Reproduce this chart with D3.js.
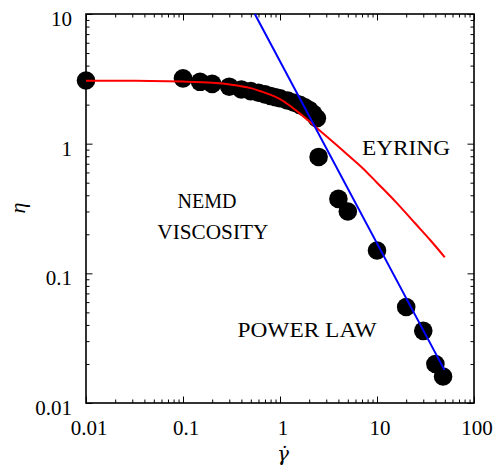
<!DOCTYPE html>
<html>
<head>
<meta charset="utf-8">
<script src="https://cdn.jsdelivr.net/npm/d3@7"></script>
<style>
  html, body { margin: 0; padding: 0; background: #fff; }
  svg { display: block; }
  text { font-family: "Liberation Serif", "Times New Roman", serif; fill: #000; }
</style>
</head>
<body>
<svg id="chart" width="495" height="468"></svg>
<script>
// ---- data ----
const shearRate = [0.01, 0.1, 0.15, 0.2, 0.3, 0.4, 0.5, 0.6, 0.7, 0.8, 0.9, 1.0, 1.2, 1.4, 1.6, 1.8, 2.0, 2.2, 2.4,
                   2.5, 4, 5, 10, 20, 30, 40, 48];
const viscosity = [3.07, 3.19, 3.0, 2.89, 2.75, 2.62, 2.54, 2.47, 2.40, 2.33, 2.28, 2.24, 2.15, 2.07, 1.99, 1.91, 1.82, 1.70, 1.57,
                   0.79, 0.375, 0.30, 0.15, 0.055, 0.036, 0.020, 0.016];

const eyringX = [0.01, 0.0316, 0.1, 0.2, 0.316, 0.5, 0.63, 0.794, 1.0, 1.26, 1.585, 2.0, 2.51, 3.55, 5.01, 7.08, 10, 15.85, 25.1, 35.5, 50];
const eyringY = [3.06, 3.055, 3.01, 2.95, 2.85, 2.68, 2.535, 2.39, 2.21, 1.97, 1.72, 1.486, 1.28, 1.025, 0.818, 0.65, 0.50, 0.351, 0.24, 0.18, 0.133];

const powerLawX = [0.55, 49.5];
const powerLawY = [10, 0.018];

const xTickValues = [0.01, 0.1, 1, 10, 100];
const xTickLabels = ["0.01", "0.1", "1", "10", "100"];
const yTickValues = [0.01, 0.1, 1, 10];
const yTickLabels = ["0.01", "0.1", "1", "10"];

const annotations = [
  { text: "NEMD", x: 0.1766, y: 0.319, w: 59 },
  { text: "VISCOSITY", x: 0.203, y: 0.183, w: 111 },
  { text: "POWER LAW", x: 1.897, y: 0.0325, w: 139 },
  { text: "EYRING", x: 19.9, y: 0.818, w: 88 }
];

// ---- layout ----
const L = 86, R = 474, T = 14, B = 403;
const svg = d3.select("#chart");
const x = d3.scaleLog().domain([0.01, 100]).range([L, R]);
const y = d3.scaleLog().domain([0.01, 10]).range([B, T]);

const isMajor = v => Math.abs(Math.log10(v) - Math.round(Math.log10(v))) < 1e-9;
const xMinor = x.ticks().filter(v => !isMajor(v));
const yMinor = y.ticks().filter(v => !isMajor(v));

function styleAxis(g) {
  g.select(".domain").remove();
  g.selectAll(".tick line").attr("stroke", "#000").attr("stroke-width", 1);
  g.selectAll(".tick text").remove();
}

// ticks on all four sides, pointing inward
const axes = [
  [d3.axisBottom, x, `translate(0,${B})`, xMinor, xTickValues],
  [d3.axisTop, x, `translate(0,${T})`, xMinor, xTickValues],
  [d3.axisLeft, y, `translate(${L},0)`, yMinor, yTickValues],
  [d3.axisRight, y, `translate(${R},0)`, yMinor, yTickValues]
];
axes.forEach(([fn, sc, tr, minor, major]) => {
  svg.append("g").attr("transform", tr)
    .call(fn(sc).tickValues(minor).tickSize(-3.5).tickFormat(""))
    .call(styleAxis);
  svg.append("g").attr("transform", tr)
    .call(fn(sc).tickValues(major).tickSize(-6.5).tickFormat(""))
    .call(styleAxis);
});

// frame
svg.append("rect")
  .attr("x", L).attr("y", T).attr("width", R - L).attr("height", B - T)
  .attr("fill", "none").attr("stroke", "#000").attr("stroke-width", 1.6);

// tick labels
svg.append("g").selectAll("text").data(xTickValues).join("text")
  .attr("x", d => x(d) + 3).attr("y", 435)
  .attr("text-anchor", "middle").attr("font-size", 21)
  .text((d, i) => xTickLabels[i]);
svg.append("g").selectAll("text").data(yTickValues).join("text")
  .attr("x", 72).attr("y", d => y(d) + 12)
  .attr("text-anchor", "end").attr("font-size", 21)
  .text((d, i) => yTickLabels[i]);

// axis titles
svg.append("text")
  .attr("transform", "translate(25,208) rotate(-90)")
  .attr("text-anchor", "middle").attr("font-size", 22).attr("font-style", "italic")
  .text("η");
svg.append("text")
  .attr("x", 283).attr("y", 461)
  .attr("text-anchor", "middle").attr("font-size", 20).attr("font-style", "italic")
  .style("font-family", "'DejaVu Serif', serif")
  .text("γ\u0307");

// data points
const pts = shearRate.map((d, i) => ({ x: d, y: viscosity[i] }));
svg.append("g").selectAll("circle").data(pts).join("circle")
  .attr("cx", d => x(d.x)).attr("cy", d => y(d.y)).attr("r", 9.3)
  .attr("fill", "#000");

// Eyring fit
const line = d3.line().x(d => x(d[0])).y(d => y(d[1])).curve(d3.curveCatmullRom.alpha(0.5));
svg.append("path")
  .datum(eyringX.map((d, i) => [d, eyringY[i]]))
  .attr("d", line).attr("fill", "none").attr("stroke", "#ff0000").attr("stroke-width", 2);

// power law
svg.append("path")
  .datum(powerLawX.map((d, i) => [d, powerLawY[i]]))
  .attr("d", d3.line().x(d => x(d[0])).y(d => y(d[1])))
  .attr("fill", "none").attr("stroke", "#0000ff").attr("stroke-width", 2);

// annotations
svg.append("g").selectAll("text").data(annotations).join("text")
  .attr("x", d => x(d.x)).attr("y", d => y(d.y))
  .attr("text-anchor", "middle").attr("font-size", 21)
  .attr("textLength", d => d.w).attr("lengthAdjust", "spacingAndGlyphs")
  .text(d => d.text);
</script>
</body>
</html>
